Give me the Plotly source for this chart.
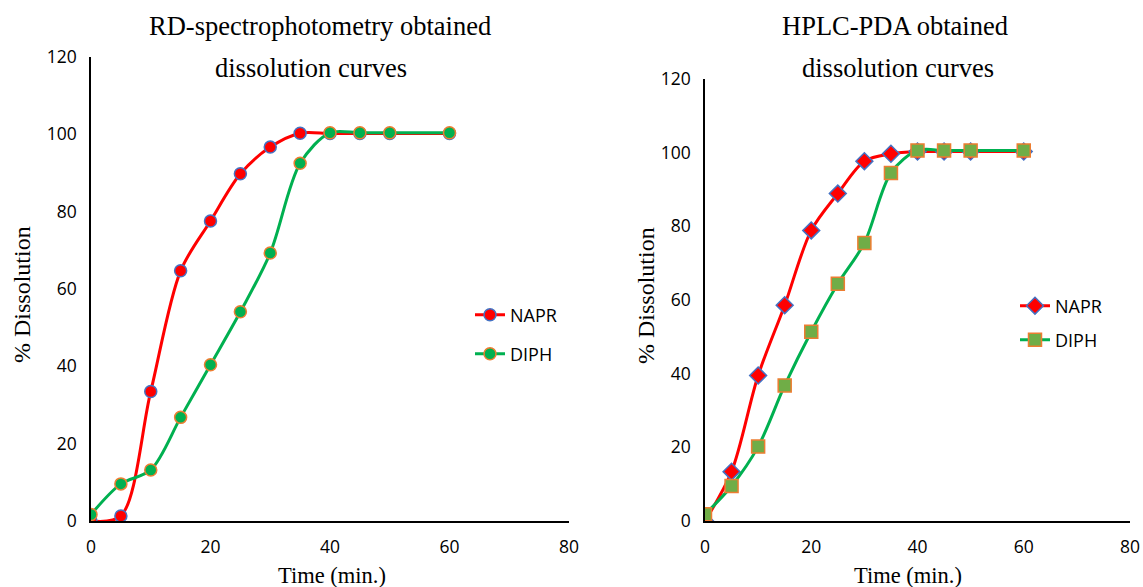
import plotly.graph_objects as go

time_min = [0, 5, 10, 15, 20, 25, 30, 35, 40, 45, 50, 60]

rd_napr = [0.0, 1.3, 33.5, 64.7, 77.6, 89.8, 96.7, 100.3, 100.2, 100.2, 100.2, 100.2]
rd_diph = [1.7, 9.6, 13.2, 26.8, 40.4, 54.1, 69.3, 92.5, 100.4, 100.4, 100.4, 100.4]

hplc_napr = [0.0, 13.4, 39.5, 58.6, 78.9, 88.9, 97.7, 99.7, 100.3, 100.3, 100.3, 100.3]
hplc_diph = [1.8, 9.5, 20.2, 36.8, 51.4, 64.4, 75.5, 94.5, 100.6, 100.6, 100.6, 100.6]

x_ticks = [0, 20, 40, 60, 80]
y_ticks = [0, 20, 40, 60, 80, 100, 120]

RED = "#FF0000"
GREEN = "#00B050"
BLUE = "#4472C4"
ORANGE = "#ED7D31"
OLIVE = "#70AD47"

W, H = 1143, 587
serif = "Liberation Serif, Times New Roman, serif"
sans = "Open Sans, Liberation Sans, sans-serif"

fig = go.Figure()

fig.add_trace(go.Scatter(x=time_min, y=rd_napr, name="NAPR", mode="lines+markers",
                         line=dict(color=RED, width=3, shape="spline", smoothing=0.9),
                         marker=dict(symbol="circle", size=12, color=RED, line=dict(color=BLUE, width=1.5)),
                         xaxis="x", yaxis="y", legend="legend"))
fig.add_trace(go.Scatter(x=time_min, y=rd_diph, name="DIPH", mode="lines+markers",
                         line=dict(color=GREEN, width=3, shape="spline", smoothing=0.9),
                         marker=dict(symbol="circle", size=12, color=GREEN, line=dict(color=ORANGE, width=1.5)),
                         xaxis="x", yaxis="y", legend="legend2"))
fig.add_trace(go.Scatter(x=time_min, y=hplc_napr, name="NAPR", mode="lines+markers",
                         line=dict(color=RED, width=3, shape="spline", smoothing=0.9),
                         marker=dict(symbol="diamond", size=13, color=RED, line=dict(color=BLUE, width=1.5)),
                         xaxis="x2", yaxis="y2", legend="legend3"))
fig.add_trace(go.Scatter(x=time_min, y=hplc_diph, name="DIPH", mode="lines+markers",
                         line=dict(color=GREEN, width=3, shape="spline", smoothing=0.9),
                         marker=dict(symbol="square", size=13, color=OLIVE, line=dict(color=ORANGE, width=1.5)),
                         xaxis="x2", yaxis="y2", legend="legend4"))

def fx(px):
    return px / W

def fy(py):
    return (H - py) / H

axis_common = dict(showgrid=False, zeroline=False, showline=True, linecolor="black", linewidth=1.5,
                   ticks="", tickfont=dict(family=sans, size=17.5, color="black"), ticklabelstandoff=9,
                   fixedrange=True, automargin=False)

fig.update_layout(
    template="none",
    width=W, height=H,
    margin=dict(l=0, r=0, t=0, b=0, autoexpand=False),
    paper_bgcolor="white", plot_bgcolor="white",
    xaxis=dict(domain=[fx(91), fx(569)], range=[0, 80], tickvals=x_ticks, anchor="y", **axis_common),
    yaxis=dict(domain=[fy(521), fy(57)], range=[0, 120], tickvals=y_ticks, anchor="x", **axis_common),
    xaxis2=dict(domain=[fx(705), fx(1130)], range=[0, 80], tickvals=x_ticks, anchor="y2", **axis_common),
    yaxis2=dict(domain=[fy(521), fy(79)], range=[0, 120], tickvals=y_ticks, anchor="x2", **axis_common),
    showlegend=True,
)

leg = dict(font=dict(family=sans, size=18, color="black"), bgcolor="rgba(0,0,0,0)", borderwidth=0,
           xanchor="left", yanchor="middle", itemwidth=30)
fig.update_layout(
    legend=dict(x=fx(470), y=fy(315), **leg),
    legend2=dict(x=fx(470), y=fy(354), **leg),
    legend3=dict(x=fx(1015), y=fy(306), **leg),
    legend4=dict(x=fx(1015), y=fy(340), **leg),
)

ann = []
def add_text(text, x, y, size, angle=0, family=serif):
    ann.append(dict(text=text, x=fx(x), y=fy(y), xref="paper", yref="paper", showarrow=False,
                    xanchor="center", yanchor="middle", textangle=angle,
                    font=dict(family=family, size=size, color="black")))

add_text("RD-spectrophotometry obtained", 320, 26, 26.5)
add_text("dissolution curves", 311, 68, 26.5)
add_text("HPLC-PDA obtained", 895, 26, 26.5)
add_text("dissolution curves", 898, 68, 26.5)
add_text("% Dissolution", 22, 295, 24, -90)
add_text("% Dissolution", 646, 295, 24, -90)
add_text("Time (min.)", 332, 575, 22.5)
add_text("Time (min.)", 908, 575, 22.5)
fig.update_layout(annotations=ann)

fig.write_html("out.html", config={"displayModeBar": False},
               post_script="document.body.style.margin='0';document.body.style.overflow='hidden';")
